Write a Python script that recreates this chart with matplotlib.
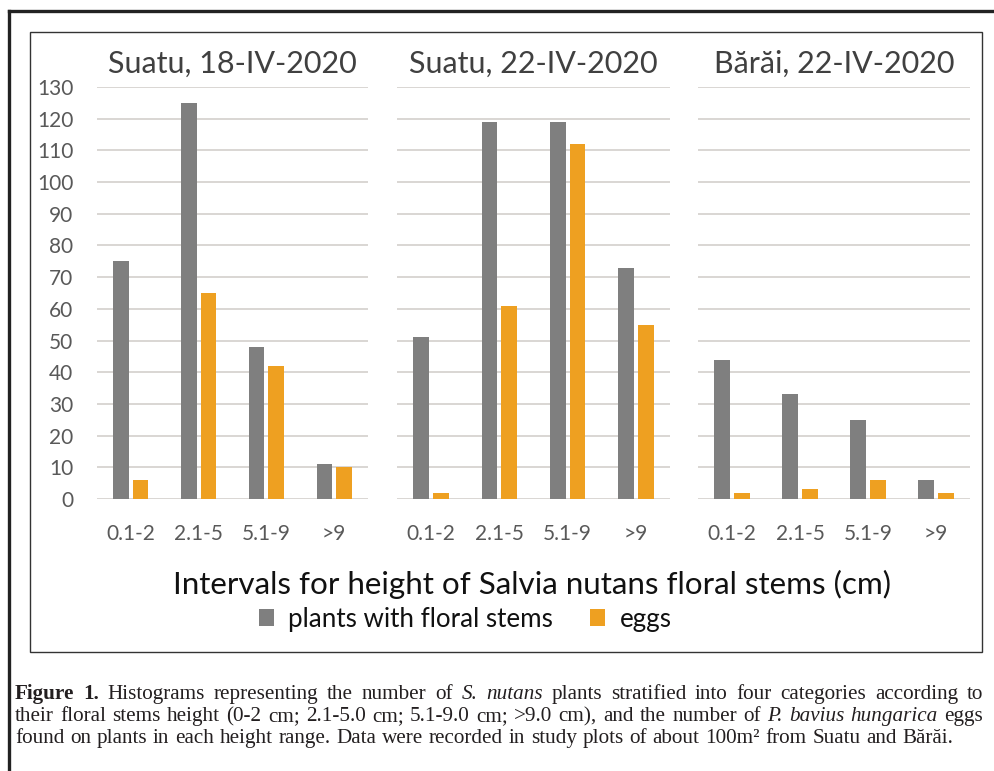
import matplotlib
matplotlib.use("Agg")
import matplotlib.pyplot as plt
import numpy as np
from matplotlib.patches import Rectangle
from matplotlib.lines import Line2D

W, H = 994, 771

categories = ["0.1-2", "2.1-5", "5.1-9", ">9"]
titles = ["Suatu, 18-IV-2020", "Suatu, 22-IV-2020", "B\u0103r\u0103i, 22-IV-2020"]
plants = [
    [75, 125, 48, 11],
    [51, 119, 119, 73],
    [44, 33, 25, 6],
]
eggs = [
    [6, 65, 42, 10],
    [2, 61, 112, 55],
    [2, 3, 6, 2],
]
yticks = list(range(0, 131, 10))

gray_col = "#7f7f7f"
orange_col = "#eea021"
grid_col = "#d9d6d3"
tick_col = "#595959"

plt.rcParams["font.family"] = ["Lato", "DejaVu Sans"]

fig = plt.figure(figsize=(W / 100, H / 100), dpi=100)


def fx(x):
    return x / W


def fy(y):
    return 1 - y / H


# outer frame (top and left sides visible)
fig.add_artist(Line2D([fx(8.5), fx(W + 5)], [fy(11), fy(11)], color="#222222", lw=2.4))
fig.add_artist(Line2D([fx(8.5), fx(8.5)], [fy(11), fy(H + 5)], color="#222222", lw=2.4))
# inner chart box
fig.add_artist(Rectangle((fx(30), fy(652)), fx(982) - fx(30), fy(32) - fy(652),
                         fill=False, edgecolor="#333333", lw=1.0))

panels = [(97, 368), (397, 670), (698, 970)]
y_top, y_bot = 87, 499
x = np.arange(len(categories))
bw = 0.232
off = 0.144

bars = []
for i, (x0, x1) in enumerate(panels):
    ax = fig.add_axes([fx(x0), fy(y_bot), fx(x1) - fx(x0), (y_bot - y_top) / H])
    ax.set_xlim(-0.5, 3.5)
    ax.set_ylim(0, 130)
    for v in yticks:
        ax.axhline(v, color=grid_col, lw=1.4, zorder=0)
    b1 = ax.bar(x - off, plants[i], bw, color=gray_col, zorder=2)
    b2 = ax.bar(x + off, eggs[i], bw, color=orange_col, zorder=2)
    bars = [b1, b2]
    for s in ax.spines.values():
        s.set_visible(False)
    ax.set_xticks(x)
    ax.set_xticklabels(categories, fontsize=15, color=tick_col)
    ax.tick_params(axis="x", length=0, pad=18)
    ax.set_yticks(yticks)
    if i == 0:
        ax.set_yticklabels([str(v) for v in yticks], fontsize=15, color=tick_col)
        ax.tick_params(axis="y", length=0, pad=17)
    else:
        ax.tick_params(axis="y", length=0, labelleft=False)
    ax.patch.set_alpha(0)
    ax.text(0.5, 1.034, titles[i], transform=ax.transAxes, ha="center",
            va="baseline", fontsize=22, color="#404040")

fig.text(fx(532), fy(594), "Intervals for height of Salvia nutans floral stems (cm)",
         ha="center", va="baseline", fontsize=22.6, color="#111111")

fig.legend(bars, ["plants with floral stems", "eggs"], ncol=2, frameon=False,
           loc="center", bbox_to_anchor=(fx(465), fy(619)), fontsize=18.7,
           handlelength=0.6, handleheight=0.6, handletextpad=0.55,
           columnspacing=1.4, labelcolor="#111111")

# caption, justified word by word
cap_lines = [
    [("Figure", "b"), ("1.", "b"), ("Histograms", "n"), ("representing", "n"), ("the", "n"),
     ("number", "n"), ("of", "n"), ("S.", "i"), ("nutans", "i"), ("plants", "n"),
     ("stratified", "n"), ("into", "n"), ("four", "n"), ("categories", "n"),
     ("according", "n"), ("to", "n")],
    [("their", "n"), ("floral", "n"), ("stems", "n"), ("height", "n"), ("(0-2", "n"),
     ("cm;", "n"), ("2.1-5.0", "n"), ("cm;", "n"), ("5.1-9.0", "n"), ("cm;", "n"),
     (">9.0", "n"), ("cm),", "n"), ("and", "n"), ("the", "n"), ("number", "n"), ("of", "n"),
     ("P.", "i"), ("bavius", "i"), ("hungarica", "i"), ("eggs", "n")],
    [("found", "n"), ("on", "n"), ("plants", "n"), ("in", "n"), ("each", "n"),
     ("height", "n"), ("range.", "n"), ("Data", "n"), ("were", "n"), ("recorded", "n"),
     ("in", "n"), ("study", "n"), ("plots", "n"), ("of", "n"), ("about", "n"),
     ("100m\u00b2", "n"), ("from", "n"), ("Suatu", "n"), ("and", "n"), ("B\u0103r\u0103i.", "n")],
]
cap_base = [699, 721, 743]
cap_left, cap_right = 15, 983
cap_size = 15.2
renderer = fig.canvas.get_renderer()
for li, words in enumerate(cap_lines):
    arts = []
    for w, st in words:
        t = fig.text(0, fy(cap_base[li]), w, fontsize=cap_size, va="baseline", ha="left",
                     family="Liberation Serif", color="#231f20",
                     fontweight="bold" if st == "b" else "normal",
                     fontstyle="italic" if st == "i" else "normal")
        arts.append(t)
    widths = [a.get_window_extent(renderer).width for a in arts]
    if li < len(cap_lines) - 1:
        gap = (cap_right - cap_left - sum(widths)) / (len(words) - 1)
    else:
        gap = cap_size * 0.27 * 100 / 72
    xpos = cap_left
    for a, wd in zip(arts, widths):
        a.set_x(fx(xpos))
        xpos += wd + gap

fig.savefig("out.png", dpi=100)
